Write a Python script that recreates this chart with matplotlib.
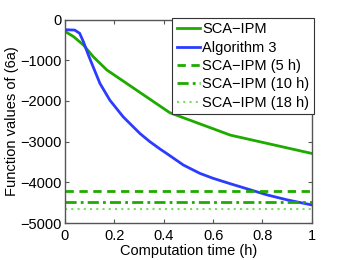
import matplotlib
matplotlib.use("Agg")
import matplotlib.pyplot as plt

plt.rcParams['font.family'] = ['Liberation Sans', 'DejaVu Sans']
plt.rcParams['font.size'] = 10.5

# values
sca_t = [0, 0.035, 0.075, 0.115, 0.17, 0.425, 0.67, 1.0]
sca_f = [-290, -420, -625, -915, -1240, -2290, -2840, -3290]

alg3_t = [0, 0.04, 0.06, 0.075, 0.095, 0.115, 0.142, 0.182, 0.236, 0.304,
          0.344, 0.385, 0.412, 0.48, 0.547, 0.6, 0.668, 0.76, 0.82, 0.9, 1.0]
alg3_f = [-250, -260, -340, -545, -870, -1170, -1570, -1980, -2390, -2800,
          -3000, -3180, -3290, -3575, -3780, -3900, -4030, -4200, -4310, -4430, -4555]

ref_5h = -4200
ref_10h = -4480
ref_18h = -4660

green = '#1faa00'
blue = '#2b3cff'
light_green = '#7ed96a'

fig = plt.figure(figsize=(3.45, 2.6), dpi=100)
ax = fig.add_axes([0.188, 0.142, 0.716, 0.783])

ax.plot(sca_t, sca_f, color=green, lw=2, label='SCA\u2212IPM')
ax.plot(alg3_t, alg3_f, color=blue, lw=2, label='Algorithm 3')
ax.plot([0, 1], [ref_5h, ref_5h], color=green, lw=2, ls=(0, (3, 2)), label='SCA\u2212IPM (5 h)')
ax.plot([0, 1], [ref_10h, ref_10h], color=green, lw=2, ls=(0, (4, 1.5, 1, 1.5)), label='SCA\u2212IPM (10 h)')
ax.plot([0, 1], [ref_18h, ref_18h], color=light_green, lw=1.5, ls=(0, (1, 2)), label='SCA\u2212IPM (18 h)')

ax.set_xlim(0, 1)
ax.set_ylim(-5000, 0)
ax.set_xticks([0, 0.2, 0.4, 0.6, 0.8, 1])
ax.set_xticklabels(['0', '0.2', '0.4', '0.6', '0.8', '1'])
ax.set_yticks([-5000, -4000, -3000, -2000, -1000, 0])
ax.tick_params(direction='in', top=True, right=True, length=3, color='#555555')
ax.tick_params(axis='x', pad=4)
ax.tick_params(axis='y', pad=2)
for s in ax.spines.values():
    s.set_color('#555555')
    s.set_linewidth(1)

ax.set_xlabel('Computation time (h)', labelpad=1)
ax.set_ylabel('Function values of (6a)', labelpad=1)

leg = ax.legend(loc='upper right', bbox_to_anchor=(1.008, 1.008), borderaxespad=0,
                fancybox=False, framealpha=1, edgecolor='#333333',
                handlelength=1.6, handletextpad=0.15, labelspacing=0.3,
                borderpad=0.3)
leg.get_frame().set_linewidth(0.8)

fig.savefig('out.png', dpi=100)
